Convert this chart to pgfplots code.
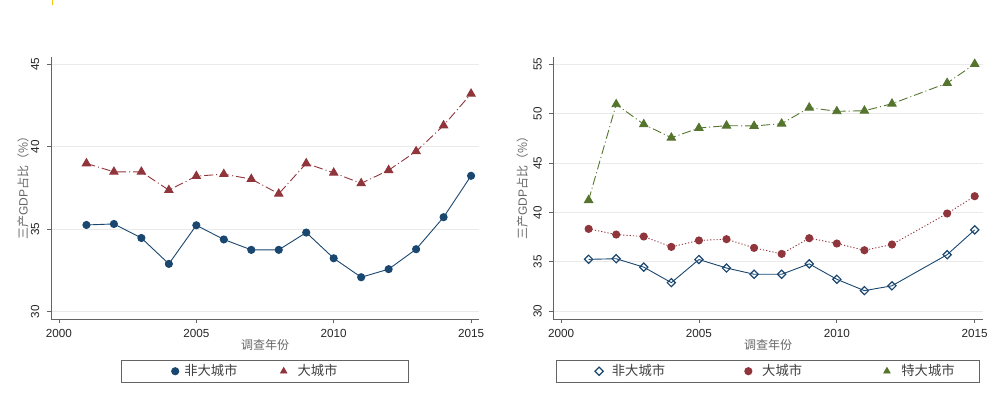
\documentclass[border=0pt]{standalone}
\usepackage{pgfplots}
\pgfplotsset{compat=1.18}
\usepackage{fontspec}
\setmainfont{Liberation Sans}
\newfontfamily\cjk{Noto Sans CJK SC}
\definecolor{navyc}{RGB}{26,71,111}
\definecolor{maroonc}{RGB}{144,53,59}
\definecolor{forestc}{RGB}{85,117,47}
\definecolor{axisgray}{RGB}{100,100,100}
\definecolor{gridgray}{RGB}{234,234,234}
\pgfplotsset{
  limg/.style 2 args={legend image code/.code={\path (-#1,0pt) (#2,0pt); \draw[##1, only marks] plot coordinates {(0pt,0pt)};}},
  limgt/.style 2 args={legend image code/.code={\path (-#1,0pt) (#2,0pt); \draw[##1, only marks, mark size=3.6pt] plot coordinates {(0pt,0pt)};}},
  statastyle/.style={
    scale only axis,
    anchor=south west,
    axis lines*=left,
    axis line style={axisgray, line width=0.8pt},
    tick style={axisgray, line width=0.8pt},
    major tick length=4pt,
    tick align=outside,
    ymajorgrids,
    grid style={gridgray, line width=0.8pt},
    xtick={2000,2005,2010,2015},
    /pgf/number format/assume math mode=true,
    /pgf/number format/1000 sep={},
    ticklabel style={font=\fontsize{11.7}{13}\selectfont, text=black!85},
    yticklabel style={rotate=90, anchor=south, inner ysep=7.5pt},
    xticklabel style={yshift=-2.5pt},
    label style={font=\fontsize{12}{14}\selectfont, text=black!60},
    xlabel={\cjk 调查年份},
    ylabel={{\cjk 三产}GDP{\cjk 占比（\%）}},
    xlabel style={at={(axis description cs:0.5,0)}, anchor=center, yshift=-25.7pt},
    legend cell align=left,
    clip=false,
  }
}
\begin{document}
\begin{tikzpicture}
\useasboundingbox (0pt,0pt) rectangle (1000pt,402pt);
\draw[color={rgb,255:red,245;green,200;blue,20}, line width=1.3pt] (52.7pt,402pt) -- (52.7pt,397pt);
% Left panel
\begin{axis}[statastyle,
  at={(51pt,82.7pt)}, width=428.3pt, height=262.6pt,
  xmin=1999.71, xmax=2015.30, ymin=29.54, ymax=45.46,
  ytick={30,35,40,45},
  ylabel style={at={(axis description cs:-0.065,0.51)}, anchor=center},
  legend columns=2,
  legend style={at={(axis description cs:0.5,-0.1538)}, anchor=north,
    draw=axisgray, line width=0.8pt, inner xsep=20pt, inner ysep=4.65pt,
    font=\cjk\fontsize{13.3}{15}\selectfont, text=black!75,
    nodes={inner sep=0pt, text height=11pt, text depth=2pt},
    /tikz/every even column/.append style={column sep=35pt}},
]
\addplot[color=navyc, line width=0.9pt, mark=*, mark size=3.6pt, mark options={solid},
  limg={33.3pt}{8.6pt}]
coordinates {(2001,35.26)(2002,35.32)(2003,34.47)(2004,32.90)(2005,35.24)(2006,34.38)(2007,33.75)(2008,33.75)(2009,34.80)(2010,33.24)(2011,32.09)(2012,32.58)(2013,33.79)(2014,35.73)(2015,38.24)};
\addlegendentry{\makebox[60pt][l]{非大城市}}
\addplot[color=maroonc, line width=0.9pt, dash pattern=on 9pt off 3pt on 1pt off 3pt, mark=triangle*, mark size=4.8pt, mark options={solid},
  limgt={4pt}{13.4pt}]
coordinates {(2001,38.99)(2002,38.48)(2003,38.48)(2004,37.37)(2005,38.22)(2006,38.34)(2007,38.04)(2008,37.15)(2009,38.99)(2010,38.42)(2011,37.78)(2012,38.58)(2013,39.72)(2014,41.29)(2015,43.21)};
\addlegendentry{\makebox[91.3pt][l]{大城市}}
\end{axis}
% Right panel
\begin{axis}[statastyle,
  at={(553.3pt,83pt)}, width=429.4pt, height=262.3pt,
  xmin=1999.72, xmax=2015.29, ymin=29.22, ymax=55.77,
  ytick={30,35,40,45,50,55},
  ylabel style={at={(axis description cs:-0.072,0.51)}, anchor=center},
  legend columns=3,
  legend style={at={(axis description cs:0.5,-0.155)}, anchor=north,
    draw=axisgray, line width=0.8pt, inner xsep=25pt, inner ysep=4.65pt,
    font=\cjk\fontsize{13.3}{15}\selectfont, text=black!75,
    nodes={inner sep=0pt, text height=11pt, text depth=2pt},
    /tikz/every even column/.append style={column sep=70pt}},
]
\addplot[color=navyc, line width=0.9pt, mark=square, mark size=2.9pt, mark options={solid, rotate=45, fill=white, line width=1.2pt},
  limg={17.3pt}{12.3pt}]
coordinates {(2001,35.26)(2002,35.32)(2003,34.47)(2004,32.90)(2005,35.24)(2006,34.38)(2007,33.75)(2008,33.75)(2009,34.80)(2010,33.24)(2011,32.09)(2012,32.58)(2014,35.73)(2015,38.24)};
\addlegendentry{\makebox[62pt][l]{非大城市}}
\addplot[color=maroonc, line width=0.9pt, dash pattern=on 1.2pt off 2pt, mark=*, mark size=3.6pt, mark options={solid},
  limg={4pt}{13.4pt}]
coordinates {(2001,38.34)(2002,37.77)(2003,37.57)(2004,36.52)(2005,37.17)(2006,37.30)(2007,36.42)(2008,35.81)(2009,37.40)(2010,36.86)(2011,36.18)(2012,36.76)(2014,39.90)(2015,41.65)};
\addlegendentry{\makebox[50.3pt][l]{大城市}}
\addplot[color=forestc, line width=0.9pt, dash pattern=on 9pt off 3pt on 1pt off 3pt, mark=triangle*, mark size=4.8pt, mark options={solid},
  limgt={4pt}{14pt}]
coordinates {(2001,41.25)(2002,50.95)(2003,48.93)(2004,47.57)(2005,48.55)(2006,48.79)(2007,48.76)(2008,48.99)(2009,50.61)(2010,50.24)(2011,50.30)(2012,51.01)(2014,53.10)(2015,55.03)};
\addlegendentry{特大城市}
\end{axis}
\end{tikzpicture}
\end{document}
